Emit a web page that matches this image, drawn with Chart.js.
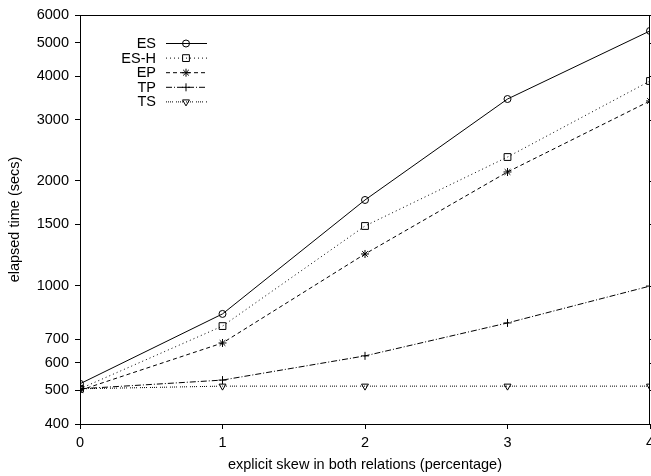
<!DOCTYPE html>
<html lang="en">
<head>
    <meta charset="UTF-8">
    <title>Elapsed time vs skew</title>
    <script src="https://cdn.jsdelivr.net/npm/chart.js"></script>
    <style>
        html, body { margin: 0; padding: 0; background: #fff; }
        #wrap { width: 651px; height: 476px; }
    </style>
</head>
<body>
    <div id="wrap"><canvas id="skewChart" width="651" height="476"></canvas></div>
    <script>
        // data
        const skew = [0, 1, 2, 3, 4];
        const esTimes  = [522, 829, 1763, 3440, 5400];
        const eshTimes = [505, 765, 1484, 2343, 3876];
        const epTimes  = [500, 684, 1233, 2122, 3396];
        const tpTimes  = [505, 535, 628, 781, 997];
        const tsTimes  = [505, 514, 514, 514, 514];
        const yTicks = [400, 500, 600, 700, 1000, 1500, 2000, 3000, 4000, 5000, 6000];
        const xTicks = [0, 1, 2, 3, 4];

        const font = { family: 'Liberation Sans, Arial, sans-serif', size: 14.5 };

        function pts(values) {
            return skew.map((x, i) => ({ x: x, y: values[i] }));
        }

        function series(label, values, dash, style, radius, rotation) {
            return {
                label: label,
                data: pts(values),
                borderColor: '#000',
                borderWidth: 1,
                borderDash: dash,
                pointStyle: style,
                pointRadius: radius,
                pointRotation: rotation || 0,
                pointBorderColor: '#000',
                pointBorderWidth: 1,
                pointBackgroundColor: 'rgba(0,0,0,0)',
                fill: false,
                tension: 0
            };
        }

        // gnuplot-style key: text on the left, line sample + marker on the right
        const keyPlugin = {
            id: 'key',
            afterDatasetsDraw(chart) {
                const ctx = chart.ctx;
                const left = chart.chartArea.left;
                ctx.save();
                chart.data.datasets.forEach((ds, i) => {
                    const y = 43 + i * 14.6;
                    ctx.font = font.size + 'px ' + font.family;
                    ctx.fillStyle = '#000';
                    ctx.textAlign = 'right';
                    ctx.textBaseline = 'middle';
                    ctx.fillText(ds.label, left + 76, y + 1);
                    ctx.strokeStyle = '#000';
                    ctx.lineWidth = 1;
                    ctx.setLineDash(ds.borderDash || []);
                    ctx.beginPath();
                    ctx.moveTo(left + 86, y + 0.5);
                    ctx.lineTo(left + 127, y + 0.5);
                    ctx.stroke();
                    ctx.setLineDash([]);
                    ctx.fillStyle = 'rgba(0,0,0,0)';
                    Chart.helpers.drawPoint(ctx, {
                        pointStyle: ds.pointStyle,
                        rotation: ds.pointRotation,
                        radius: ds.pointRadius,
                        borderWidth: 1
                    }, left + 106, y + 0.5);
                });
                ctx.restore();
            }
        };

        // frame round the plot with mirrored ticks on the right
        const framePlugin = {
            id: 'frame',
            afterDraw(chart) {
                const a = chart.chartArea;
                const ctx = chart.ctx;
                const ys = chart.scales.y;
                ctx.save();
                ctx.strokeStyle = '#000';
                ctx.lineWidth = 1;
                ctx.strokeRect(a.left + 0.5, a.top + 0.5, a.right - a.left - 1, a.bottom - a.top);
                ctx.beginPath();
                yTicks.forEach(v => {
                    const py = Math.round(ys.getPixelForValue(v)) + 0.5;
                    ctx.moveTo(a.right - 1, py);
                    ctx.lineTo(a.right + 4, py);
                });
                ctx.stroke();
                ctx.restore();
            }
        };

        const ctx = document.getElementById('skewChart').getContext('2d');
        new Chart(ctx, {
            type: 'line',
            data: {
                datasets: [
                    series('ES', esTimes, [], 'circle', 3.5),
                    series('ES-H', eshTimes, [1, 3], 'rect', 4.8),
                    series('EP', epTimes, [4, 3], 'star', 4),
                    series('TP', tpTimes, [6, 2, 1, 2], 'cross', 4),
                    series('TS', tsTimes, [1, 1, 1, 1, 1, 1, 1, 3], 'triangle', 4, 180)
                ]
            },
            options: {
                responsive: false,
                animation: false,
                layout: { autoPadding: false, padding: { left: 0, right: 1, top: 15, bottom: 0 } },
                plugins: {
                    legend: { display: false },
                    tooltip: { enabled: false }
                },
                scales: {
                    x: {
                        type: 'linear',
                        min: 0,
                        max: 4,
                        afterBuildTicks: scale => { scale.ticks = xTicks.map(v => ({ value: v })); },
                        afterFit: scale => { scale.height = 52; scale.paddingRight = 0; },
                        grid: { drawOnChartArea: false, drawTicks: true, tickLength: 5, color: '#000' },
                        border: { color: '#000' },
                        ticks: { color: '#000', font: font, padding: 5 },
                        title: {
                            display: true,
                            text: 'explicit skew in both relations (percentage)',
                            color: '#000',
                            font: font,
                            padding: { top: 0, bottom: 2 }
                        }
                    },
                    y: {
                        type: 'logarithmic',
                        min: 400,
                        max: 6000,
                        afterBuildTicks: scale => { scale.ticks = yTicks.map(v => ({ value: v })); },
                        afterFit: scale => { scale.width = 80; },
                        grid: { drawOnChartArea: false, drawTicks: true, tickLength: 5, color: '#000' },
                        border: { color: '#000' },
                        ticks: { color: '#000', font: font, padding: 6, callback: v => String(v) },
                        title: {
                            display: true,
                            text: 'elapsed time (secs)',
                            color: '#000',
                            font: font,
                            padding: { top: 6, bottom: 0 }
                        }
                    }
                }
            },
            plugins: [keyPlugin, framePlugin]
        });
    </script>
</body>
</html>
